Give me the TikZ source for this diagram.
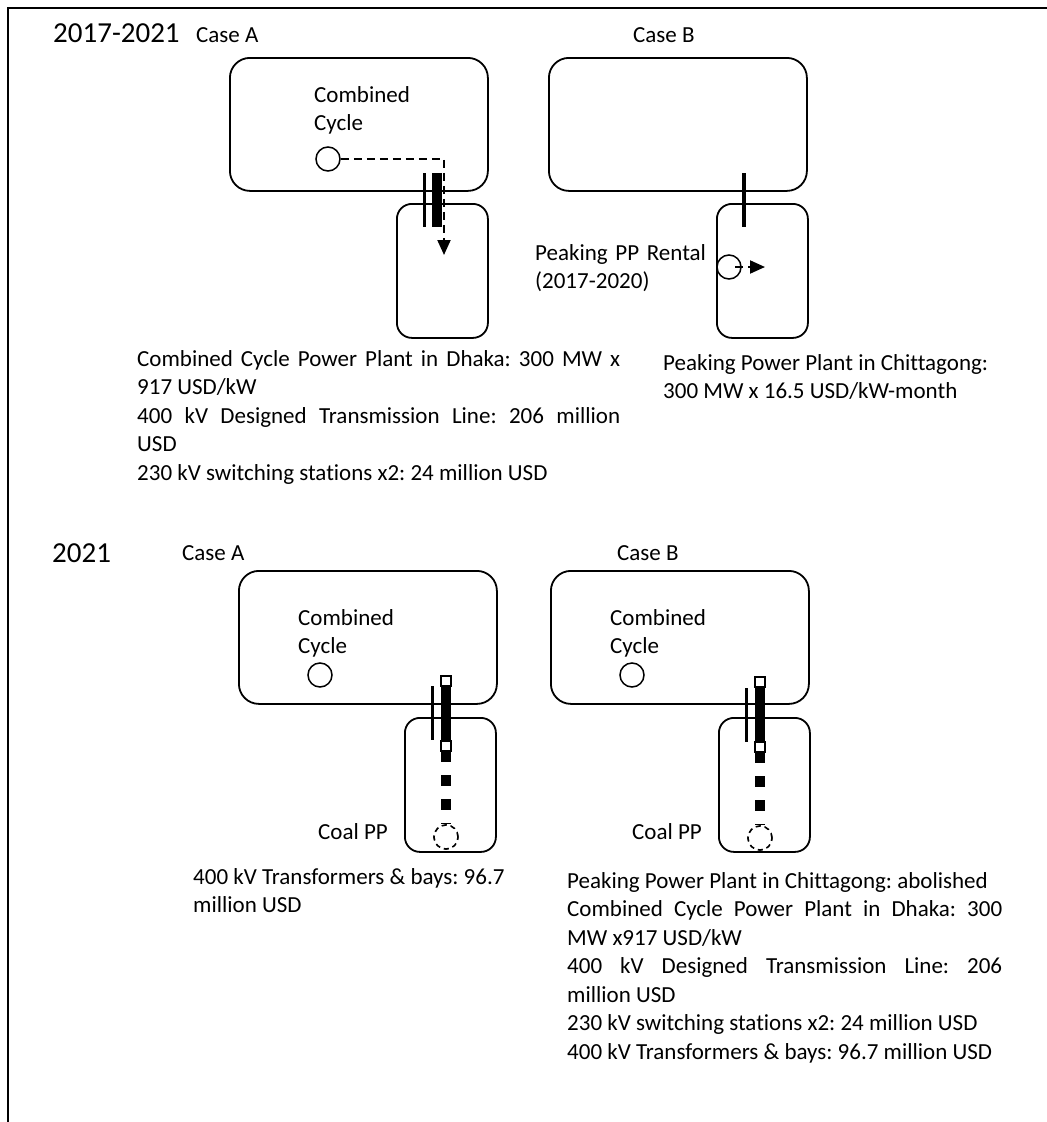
\documentclass[tikz,border=0pt]{standalone}
\usepackage{fontspec}
\setmainfont{Carlito}[Ligatures=NoCommon]
\usetikzlibrary{arrows.meta}
\frenchspacing

\begin{document}
\begin{tikzpicture}[
    x=1pt, y=-1pt,
    every node/.style={font=\fontsize{23}{28.5}\selectfont},
    region/.style={draw, line width=1.8pt, rounded corners=20pt, minimum width=258pt, minimum height=133pt, anchor=north west},
    plant/.style={draw, line width=1.8pt, rounded corners=15pt, minimum width=91pt, minimum height=134pt, anchor=north west},
    gen/.style={draw, circle, line width=1.5pt, minimum size=24pt, inner sep=0pt, fill=white},
    coalgen/.style={gen, dash pattern=on 5pt off 4pt},
    txt/.style={anchor=base west, inner sep=0pt},
    note/.style={anchor=base west, inner sep=0pt, align=justify},
    year/.style={anchor=base west, inner sep=0pt, font=\fontsize{29}{34}\selectfont},
    flow/.style={line width=2pt, dash pattern=on 8pt off 5pt, -{Triangle[length=15pt,width=13pt]}},
    busbar/.style={line width=3pt},
    feeder/.style={line width=10pt, dash pattern=on 11pt off 13pt}
  ]
    \useasboundingbox (0,0) rectangle (1047,1122);
    \draw[line width=1.7pt] (1047,8) -- (8,8) -- (8,1122);

    % 2017-2021
    \node[year] (yrA) at (53,42) {2017-2021};
    \node[txt] (caseA1) at (196,42) {Case A};
    \node[txt] (caseB1) at (633,42) {Case B};

    \node[region] (dhakaA1) at (229,57) {};
    \node[region] (dhakaB1) at (548,57) {};
    \node[plant] (ctgA1) at (396,203) {};
    \node[plant] (ctgB1) at (716,203) {};

    \node[txt, text width=120pt, align=left] (ccnameA1) at (314,102) {Combined\\Cycle};
    \node[gen] (ccA1) at (328,159) {};
    \node[gen] (pkB1) at (729,267) {};
    \node[txt, text width=175pt, align=left] (pkname) at (535,260) {Peaking PP Rental\\(2017-2020)};

    \coordinate (tipA1) at (444,255);
    \coordinate (tipB1) at (765,267);
    \draw[flow] (ccA1.east) -| (tipA1);
    \draw[flow] ([xshift=6pt]pkB1.center) -- (tipB1);

    \coordinate (lnA1t) at (424,173);
    \coordinate (lnA1b) at (424,227);
    \coordinate (lnB1t) at (744,173);
    \coordinate (lnB1b) at (744,227);
    \draw[busbar] (lnA1t) -- (lnA1b);
    \fill (432,173) rectangle (442,227);
    \draw[line width=4pt] (lnB1t) -- (lnB1b);

    \node[note, text width=483pt] (costA1) at (137,366) {%
      Combined Cycle Power Plant in Dhaka: 300 MW x\linebreak 917 USD/kW\\
      400 kV Designed Transmission Line: 206 million\linebreak USD\\
      230 kV switching stations x2: 24 million USD};
    \node[note, text width=339pt] (costB1) at (663,370) {%
      Peaking Power Plant in Chittagong:\\ 300 MW x 16.5 USD/kW-month};

    % 2021
    \node[year] (yrB) at (52,562) {2021};
    \node[txt] (caseA2) at (182,560) {Case A};
    \node[txt] (caseB2) at (617,560) {Case B};

    \node[region] (dhakaA2) at (238,570) {};
    \node[region] (dhakaB2) at (550,570) {};
    \node[plant] (ctgA2) at (404,717) {};
    \node[plant] (ctgB2) at (718,717) {};

    \node[txt, text width=120pt, align=left] (ccnameA2) at (298,625) {Combined\\Cycle};
    \node[txt, text width=120pt, align=left] (ccnameB2) at (610,625) {Combined\\Cycle};
    \node[gen] (ccA2) at (320,675) {};
    \node[gen] (ccB2) at (632,675) {};
    \node[txt] (coalnameA) at (318,839) {Coal PP};
    \node[txt] (coalnameB) at (632,839) {Coal PP};

    \draw[busbar] (432,686) -- (432,740);
    \draw[busbar] (746,688) -- (746,742);
    \fill (441,676) rectangle (451,751);
    \fill (755,677) rectangle (765,752);
    \draw[line width=1.2pt, fill=white] (441,676) rectangle (451,686);
    \draw[line width=1.2pt, fill=white] (441,741) rectangle (451,751);
    \draw[line width=1.2pt, fill=white] (755,677) rectangle (765,687);
    \draw[line width=1.2pt, fill=white] (755,742) rectangle (765,752);

    \node[coalgen] (coalA) at (446,837) {};
    \node[coalgen] (coalB) at (760,838) {};
    \coordinate (barA) at (446,751);
    \coordinate (barB) at (760,752);
    \draw[feeder] (barA) -- (coalA.north);
    \draw[feeder] (barB) -- (coalB.north);
    \node[coalgen] at (coalA) {};
    \node[coalgen] at (coalB) {};

    \node[note, text width=330pt] (costA2) at (193,884) {%
      400 kV Transformers \& bays: 96.7\\ million USD};
    \node[note, text width=435pt] (costB2) at (567,888) {%
      Peaking Power Plant in Chittagong: abolished\\
      Combined Cycle Power Plant in Dhaka: 300\linebreak MW x917 USD/kW\\
      400 kV Designed Transmission Line: 206\linebreak million USD\\
      230 kV switching stations x2: 24 million USD\\
      400 kV Transformers \& bays: 96.7 million USD};
  \end{tikzpicture}
\end{document}
